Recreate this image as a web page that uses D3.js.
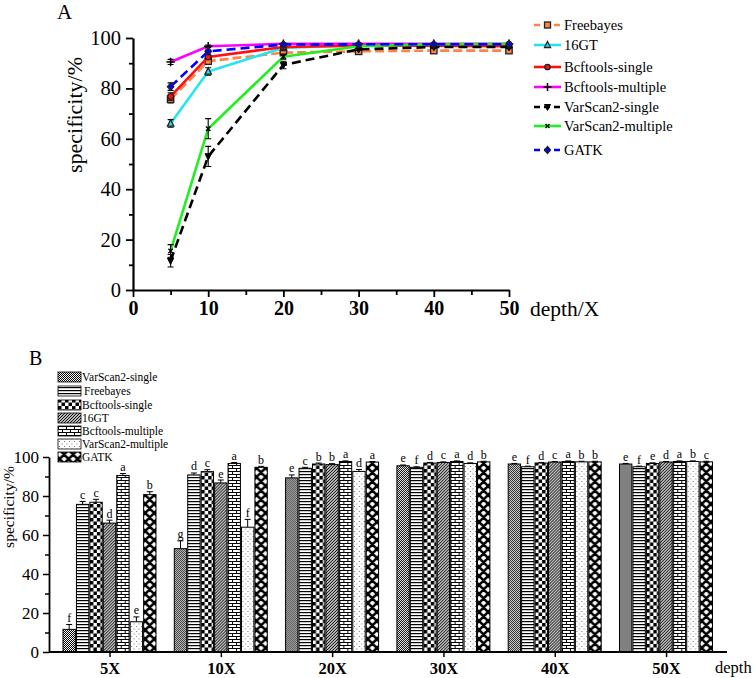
<!DOCTYPE html>
<html><head><meta charset="utf-8">
<script src="https://cdn.jsdelivr.net/npm/d3@7"></script>
<style>body{margin:0;background:#fff} svg{display:block} text{font-family:"Liberation Serif","Times New Roman",serif;fill:#000}</style>
</head><body>
<svg id="chart" width="755" height="678"></svg>
<script>
// ---------- data ----------
const depths = [5, 10, 20, 30, 40, 50];
const depthLabels = ["5X", "10X", "20X", "30X", "40X", "50X"];
const seriesNames = ["VarScan2-single", "Freebayes", "Bcftools-single", "16GT", "Bcftools-multiple", "VarScan2-multiple", "GATK"];
const lineOrder = ["Freebayes", "16GT", "Bcftools-single", "Bcftools-multiple", "VarScan2-single", "VarScan2-multiple", "GATK"];

const varscan2Single   = [11.6, 53.0, 89.3, 95.5, 96.4, 96.4];
const freebayes        = [75.7, 90.8, 94.2, 94.7, 95.0, 95.0];
const bcftoolsSingle   = [76.8, 92.5, 96.4, 96.9, 96.9, 96.7];
const gt16             = [66.1, 86.7, 96.1, 97.2, 97.4, 97.4];
const bcftoolsMultiple = [90.5, 96.7, 97.7, 97.7, 97.7, 97.7];
const varscan2Multiple = [15.5, 64.0, 92.6, 96.7, 97.5, 97.7];
const gatk             = [80.7, 94.7, 97.4, 97.5, 97.5, 97.5];

const errVarscan2Single   = [2.5, 4.0, 1.5, 0.4, 0.3, 0.3];
const errFreebayes        = [1.5, 1.0, 0.5, 0.3, 0.3, 0.3];
const errBcftoolsSingle   = [1.5, 1.0, 0.5, 0.3, 0.3, 0.3];
const errGt16             = [1.5, 1.5, 0.5, 0.3, 0.3, 0.3];
const errBcftoolsMultiple = [1.0, 0.5, 0.3, 0.3, 0.3, 0.3];
const errVarscan2Multiple = [2.5, 4.0, 1.0, 0.3, 0.3, 0.3];
const errGatk             = [1.5, 0.5, 0.3, 0.3, 0.3, 0.3];

const lettersVarscan2Single   = ["f", "g", "e", "e", "e", "e"];
const lettersFreebayes        = ["c", "d", "c", "f", "f", "f"];
const lettersBcftoolsSingle   = ["c", "c", "b", "d", "d", "e"];
const lettersGt16             = ["d", "e", "b", "c", "c", "d"];
const lettersBcftoolsMultiple = ["a", "a", "a", "a", "a", "a"];
const lettersVarscan2Multiple = ["e", "f", "d", "d", "b", "b"];
const lettersGatk             = ["b", "b", "a", "b", "b", "c"];

const yTicksA = [0, 20, 40, 60, 80, 100];
const xTicksA = [0, 10, 20, 30, 40, 50];
const yTicksB = [0, 20, 40, 60, 80, 100];

// ---------- assembled tables ----------
const values = {"VarScan2-single": varscan2Single, "Freebayes": freebayes, "Bcftools-single": bcftoolsSingle,
  "16GT": gt16, "Bcftools-multiple": bcftoolsMultiple, "VarScan2-multiple": varscan2Multiple, "GATK": gatk};
const errors = {"VarScan2-single": errVarscan2Single, "Freebayes": errFreebayes, "Bcftools-single": errBcftoolsSingle,
  "16GT": errGt16, "Bcftools-multiple": errBcftoolsMultiple, "VarScan2-multiple": errVarscan2Multiple, "GATK": errGatk};
const letters = {"VarScan2-single": lettersVarscan2Single, "Freebayes": lettersFreebayes, "Bcftools-single": lettersBcftoolsSingle,
  "16GT": lettersGt16, "Bcftools-multiple": lettersBcftoolsMultiple, "VarScan2-multiple": lettersVarscan2Multiple, "GATK": lettersGatk};

const lineStyle = {
  "Freebayes":         {color: "#ff8247", dash: "9,4", marker: "square", fill: "#ff8247"},
  "16GT":              {color: "#22e5f2", dash: null,  marker: "triangle", fill: "#22e5f2"},
  "Bcftools-single":   {color: "#ff1010", dash: null,  marker: "circle", fill: "#ff1010"},
  "Bcftools-multiple": {color: "#ff00ff", dash: null,  marker: "plus", fill: "none"},
  "VarScan2-single":   {color: "#000000", dash: "9,5", marker: "tridown", fill: "#000"},
  "VarScan2-multiple": {color: "#22ee22", dash: null,  marker: "times", fill: "none"},
  "GATK":              {color: "#0000ff", dash: "9,5", marker: "diamond", fill: "#0000ff"}
};

const svg = d3.select("#chart");
const defs = svg.append("defs");

// ---------- patterns (each bar gets its own pattern aligned to its left edge) ----------
let patCount = 0;
function makePattern(name, x0) {
  const id = "pat" + (patCount++);
  let w, h;
  const specs = {
    "VarScan2-single": [2, 2], "Freebayes": [4, 3], "Bcftools-single": [7, 7], "16GT": [3, 3],
    "Bcftools-multiple": [8, 6], "VarScan2-multiple": [5, 5], "GATK": [9, 9]
  };
  [w, h] = specs[name];
  let offX = x0;
  if (name === "GATK") offX = x0 + 1.6;
  const p = defs.append("pattern").attr("id", id).attr("patternUnits", "userSpaceOnUse")
    .attr("x", offX).attr("y", 0).attr("width", w).attr("height", h);
  p.append("rect").attr("width", w).attr("height", h).attr("fill", "#fff");
  if (name === "VarScan2-single") {
    p.append("rect").attr("x", 0).attr("y", 0).attr("width", 1).attr("height", 1).attr("fill", "#000");
    p.append("rect").attr("x", 1).attr("y", 1).attr("width", 1).attr("height", 1).attr("fill", "#000");
  } else if (name === "Freebayes") {
    p.append("rect").attr("x", 0).attr("y", 0).attr("width", 4).attr("height", 1.2).attr("fill", "#000");
  } else if (name === "Bcftools-single") {
    p.append("rect").attr("x", 0).attr("y", 0).attr("width", 3.5).attr("height", 3.5).attr("fill", "#000");
    p.append("rect").attr("x", 3.5).attr("y", 3.5).attr("width", 3.5).attr("height", 3.5).attr("fill", "#000");
  } else if (name === "16GT") {
    p.append("path").attr("d", "M-1,1 L1,-1 M0,3 L3,0 M2,4 L4,2").attr("stroke", "#000").attr("stroke-width", 1.05);
  } else if (name === "Bcftools-multiple") {
    p.append("path").attr("d", "M0,0.5 H8 M0,3.5 H8 M0.5,0.5 V3.5 M4.5,3.5 V6.5").attr("stroke", "#000").attr("stroke-width", 1);
  } else if (name === "VarScan2-multiple") {
    p.append("rect").attr("x", 1).attr("y", 1).attr("width", 0.9).attr("height", 0.9).attr("fill", "#555");
    p.append("rect").attr("x", 3.5).attr("y", 3.5).attr("width", 0.9).attr("height", 0.9).attr("fill", "#555");
  } else if (name === "GATK") {
    p.append("path").attr("d", "M-1,-1 L10,10 M-1,10 L10,-1 M-1,8 L1,10 M8,-1 L10,1 M8,10 L10,8 M-1,1 L1,-1")
      .attr("stroke", "#000").attr("stroke-width", 2.6);
  }
  return `url(#${id})`;
}

// ---------- marker drawing ----------
function drawMarker(g, type, x, y, fill, size) {
  const s = size || 3.5;
  if (type === "square") {
    g.append("rect").attr("x", x - s).attr("y", y - s).attr("width", 2 * s).attr("height", 2 * s)
      .attr("fill", fill).attr("stroke", "#222").attr("stroke-width", 1.3);
  } else if (type === "triangle") {
    g.append("path").attr("d", `M${x},${y - s - 0.5} L${x + s},${y + s - 0.5} L${x - s},${y + s - 0.5}Z`)
      .attr("fill", fill).attr("stroke", "#222").attr("stroke-width", 1.3);
  } else if (type === "circle") {
    g.append("circle").attr("cx", x).attr("cy", y).attr("r", s * 0.9)
      .attr("fill", fill).attr("stroke", "#222").attr("stroke-width", 1.3);
  } else if (type === "plus") {
    g.append("path").attr("d", `M${x - s - 1},${y} H${x + s + 1} M${x},${y - s - 1} V${y + s + 1}`)
      .attr("stroke", "#000").attr("stroke-width", 1.5);
  } else if (type === "tridown") {
    g.append("path").attr("d", `M${x - s},${y - s + 0.5} L${x + s},${y - s + 0.5} L${x},${y + s + 0.5}Z`)
      .attr("fill", "#000").attr("stroke", "#000").attr("stroke-width", 1);
  } else if (type === "times") {
    g.append("path").attr("d", `M${x - s + 1},${y - s + 1} L${x + s - 1},${y + s - 1} M${x - s + 1},${y + s - 1} L${x + s - 1},${y - s + 1}`)
      .attr("stroke", "#000").attr("stroke-width", 1.4);
  } else if (type === "diamond") {
    g.append("path").attr("d", `M${x},${y - s - 0.5} L${x + s},${y} L${x},${y + s + 0.5} L${x - s},${y}Z`)
      .attr("fill", fill).attr("stroke", "#222").attr("stroke-width", 1.3);
  }
}

// ================= PANEL A =================
const xA = d3.scaleLinear().domain([0, 50]).range([133, 509]);
const yA = d3.scaleLinear().domain([0, 100]).range([290, 38]);
const gA = svg.append("g");

svg.append("text").attr("x", 57).attr("y", 19).attr("font-size", 21).text("A");

const yAxA = gA.append("g").attr("transform", `translate(${xA(0)},0)`)
  .call(d3.axisLeft(yA).tickValues(yTicksA).tickSize(7).tickSizeOuter(0).tickPadding(5));
yAxA.selectAll("text").attr("font-size", 20.5).attr("font-family", "Liberation Serif");
gA.append("g").attr("transform", `translate(${xA(0)},0)`)
  .call(d3.axisLeft(yA).tickValues([10, 30, 50, 70, 90]).tickSize(4).tickFormat(""))
  .select(".domain").remove();
const xAxA = gA.append("g").attr("transform", `translate(0,${yA(0)})`)
  .call(d3.axisBottom(xA).tickValues(xTicksA).tickSize(7).tickSizeOuter(0).tickPadding(4));
xAxA.selectAll("text").attr("font-size", 20).attr("font-weight", "bold").attr("font-family", "Liberation Serif");
gA.append("g").attr("transform", `translate(0,${yA(0)})`)
  .call(d3.axisBottom(xA).tickValues([5, 15, 25, 35, 45]).tickSize(5).tickFormat(""))
  .select(".domain").remove();
gA.selectAll(".domain").attr("stroke-width", 2.2);
gA.selectAll(".tick line").attr("stroke-width", 1.8);

svg.append("text").attr("transform", `translate(82,115) rotate(-90)`).attr("text-anchor", "middle")
  .attr("font-size", 22).text("specificity/%");
svg.append("text").attr("x", 530).attr("y", 316).attr("font-size", 21.5).text("depth/X");

const lineGen = d3.line().x(d => xA(d.x)).y(d => yA(d.y));
lineOrder.forEach(name => {
  const st = lineStyle[name];
  const pts = depths.map((d, i) => ({x: d, y: values[name][i], e: errors[name][i]}));
  const g = gA.append("g");
  g.append("path").datum(pts).attr("d", lineGen).attr("fill", "none").attr("stroke", st.color)
    .attr("stroke-width", 2.6).attr("stroke-dasharray", st.dash);
  pts.forEach(p => {
    const x = xA(p.x), y1 = yA(p.y + p.e), y0 = yA(p.y - p.e);
    g.append("path").attr("d", `M${x},${y0} V${y1} M${x - 3},${y0} H${x + 3} M${x - 3},${y1} H${x + 3}`)
      .attr("stroke", "#000").attr("stroke-width", 1.1).attr("fill", "none");
    drawMarker(g, st.marker, x, yA(p.y), st.fill, 3.2);
  });
});

const legA = svg.append("g");
const legAY = [25, 45, 67, 87, 107, 126, 150];
lineOrder.forEach((name, i) => {
  const st = lineStyle[name];
  const y = legAY[i];
  legA.append("line").attr("x1", 534).attr("x2", 561).attr("y1", y).attr("y2", y)
    .attr("stroke", st.color).attr("stroke-width", 2.6).attr("stroke-dasharray", st.dash ? "6,4" : null);
  drawMarker(legA, st.marker, 547.5, y, st.fill, 3);
  legA.append("text").attr("x", 564).attr("y", y + 5).attr("font-size", 14.5).text(name);
});

// ================= PANEL B =================
const xB = d3.scaleBand().domain(depthLabels).range([54.4, 722.2]).paddingInner(0).paddingOuter(0);
const x1 = d3.scaleBand().domain(seriesNames).range([8.6, 101.6]).paddingInner(0.08);
const yB = d3.scaleLinear().domain([0, 100]).range([652, 457]);
const gB = svg.append("g");

svg.append("text").attr("x", 29).attr("y", 365).attr("font-size", 20).text("B");

depthLabels.forEach((lab, di) => {
  seriesNames.forEach(name => {
    const v = values[name][di], e = errors[name][di];
    const x = xB(lab) + x1(name), w = x1.bandwidth();
    gB.append("rect").attr("x", x).attr("y", yB(v)).attr("width", w).attr("height", yB(0) - yB(v))
      .attr("fill", makePattern(name, x)).attr("stroke", "#000").attr("stroke-width", 1);
    const cx = x + w / 2, yt = yB(v + e);
    gB.append("path").attr("d", `M${cx},${yB(v)} V${yt} M${cx - 3},${yt} H${cx + 3}`)
      .attr("stroke", "#000").attr("stroke-width", 1).attr("fill", "none");
    gB.append("text").attr("x", cx).attr("y", yt - 2.5).attr("text-anchor", "middle")
      .attr("font-size", 12).text(letters[name][di]);
  });
});

const yAxB = gB.append("g").attr("transform", "translate(49,0)")
  .call(d3.axisLeft(yB).tickValues(yTicksB).tickSize(6).tickSizeOuter(0).tickPadding(4));
yAxB.selectAll("text").attr("font-size", 17).attr("font-family", "Liberation Serif");
gB.append("g").attr("transform", "translate(49,0)")
  .call(d3.axisLeft(yB).tickValues([10, 30, 50, 70, 90]).tickSize(4).tickFormat(""))
  .select(".domain").remove();
const xAxB = gB.append("g").attr("transform", `translate(0,${yB(0)})`)
  .call(d3.axisBottom(xB).tickSize(5).tickSizeOuter(0).tickPadding(5));
xAxB.select(".domain").remove();
xAxB.selectAll("text").attr("font-size", 16.5).attr("font-weight", "bold").attr("font-family", "Liberation Serif");
gB.append("line").attr("x1", 49).attr("x2", 727).attr("y1", yB(0)).attr("y2", yB(0))
  .attr("stroke", "#000").attr("stroke-width", 1.8);
gB.selectAll(".domain").attr("stroke-width", 1.8);
gB.selectAll(".tick line").attr("stroke-width", 1.5);

svg.append("text").attr("transform", "translate(14,507) rotate(-90)").attr("text-anchor", "middle")
  .attr("font-size", 15.5).text("specificity/%");
svg.append("text").attr("x", 715).attr("y", 673).attr("font-size", 16.5).text("depth");

const legB = svg.append("g");
const legBY = [377, 391, 405, 418, 431, 444, 457];
seriesNames.forEach((name, i) => {
  const y = legBY[i];
  legB.append("rect").attr("x", 58).attr("y", y - 5).attr("width", 23).attr("height", 10)
    .attr("fill", makePattern(name, 58)).attr("stroke", "#000").attr("stroke-width", 0.8);
  legB.append("text").attr("x", name === "Freebayes" ? 84 : 82).attr("y", y + 4).attr("font-size", 11.5).text(name);
});
</script>
</body></html>
